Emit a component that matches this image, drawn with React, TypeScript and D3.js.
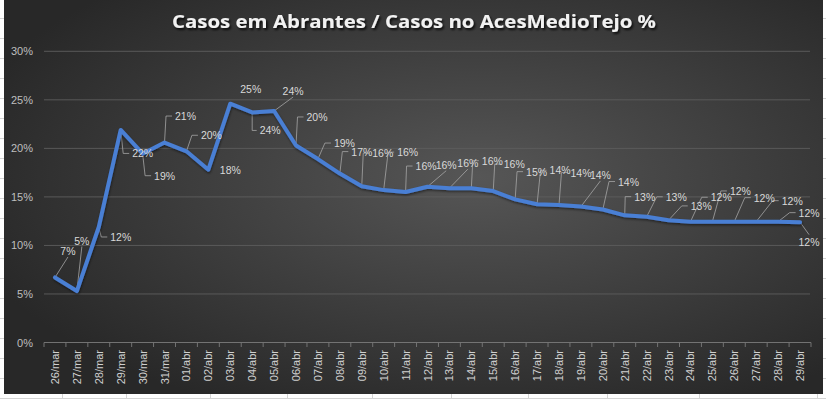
import React from "react";
import * as d3 from "d3";

const categories = [
  "26/mar", "27/mar", "28/mar", "29/mar", "30/mar", "31/mar",
  "01/abr", "02/abr", "03/abr", "04/abr", "05/abr", "06/abr", "07/abr", "08/abr", "09/abr",
  "10/abr", "11/abr", "12/abr", "13/abr", "14/abr", "15/abr", "16/abr", "17/abr", "18/abr",
  "19/abr", "20/abr", "21/abr", "22/abr", "23/abr", "24/abr", "25/abr", "26/abr", "27/abr",
  "28/abr", "29/abr",
];

const values = [
  6.7, 5.3, 11.9, 21.9, 19.45, 20.6,
  19.7, 17.8, 24.6, 23.7, 23.85, 20.3, 18.9, 17.4, 16.1,
  15.7, 15.5, 16.05, 15.9, 15.9, 15.6, 14.75, 14.24, 14.16,
  14.0, 13.7, 13.1, 12.95, 12.6, 12.45, 12.45, 12.45, 12.45,
  12.45, 12.4,
];

const yTicks = [0, 5, 10, 15, 20, 25, 30];
const title = "Casos em Abrantes / Casos no AcesMedioTejo %";

// label placement (offset of label centre from its point) and leader style
const labelDx = [13, 5, 22, 22, 22, 21, 25, 22, 20.5, 18, 19, 21, 26.5, 22, 21, 24, 20.5, 18.7, 18.4, 21, 21, 21.4, 23, 22, 19.5, 25.7, 20, 29.6, 32.7, 30.8, 28, 30, 36, 31, 9];
const labelDy = [-26.5, -50.5, 10, 23.5, 22, -26.5, -16, 0.5, -15, 18, -20, -28.5, -16, -22, -33, -38, -26, -22, -25, -27.5, -27, -27.7, -34, -32.5, -31.7, -28, -18.7, -20, -14.3, -24.4, -30.7, -24, -21, -9, 19.5];
const leaderType = ["b", "b", "e", "e", "e", "e", "e", "", "", "e", "b", "e", "e", "e", "e", "e", "e", "b", "b", "e", "e", "e", "e", "e", "b", "e", "e", "e", "e", "e", "e", "e", "e", "e", "t"];

const W = 826;
const H = 399;
const FONT = "'Liberation Sans', Arial, sans-serif";
const LABEL_SIZE = 10.5;

function textWidth(s: string) {
  let w = 0;
  for (const ch of s) w += (ch === "%" ? 0.89 : 0.556) * LABEL_SIZE;
  return w;
}

export default function App() {
  const x = d3.scaleBand<string>().domain(categories).range([44, 811]);
  const y = d3.scaleLinear().domain([0, 30]).range([342.5, 51.3]);
  const cx = (c: string) => (x(c) as number) + x.bandwidth() / 2;

  const line = d3
    .line<number>()
    .x((_, i) => cx(categories[i]))
    .y((d) => y(d));

  const boundaries = d3.range(categories.length + 1).map((i) => 44 + i * x.bandwidth());

  const colLines = [62, 126, 210, 287, 372, 451, 528, 607, 699, 817];
  const rowLines = d3.range(18, 399, 20);

  return (
    <svg
      width={W}
      height={H}
      style={{ position: "fixed", left: 0, top: 0, display: "block" }}
      xmlns="http://www.w3.org/2000/svg"
    >
      <defs>
        <radialGradient id="bg" cx="58%" cy="45%" r="65%">
          <stop offset="0" stopColor="#565656" />
          <stop offset="1" stopColor="#282828" />
        </radialGradient>
        <filter id="tshadow" x="-10%" y="-50%" width="120%" height="200%">
          <feDropShadow dx="1.5" dy="2" stdDeviation="1.2" floodColor="#000" floodOpacity="0.8" />
        </filter>
        <filter id="lshadow" x="-5%" y="-10%" width="110%" height="130%">
          <feDropShadow dx="0.5" dy="1.5" stdDeviation="1.2" floodColor="#000" floodOpacity="0.5" />
        </filter>
      </defs>

      {/* spreadsheet background */}
      <rect x={0} y={0} width={W} height={H} fill="#ffffff" />
      {rowLines.map((r) => (
        <line key={"r" + r} x1={0} x2={W} y1={r + 0.5} y2={r + 0.5} stroke="#d4d4d4" />
      ))}
      {colLines.map((c) => (
        <line key={"c" + c} x1={c + 0.5} x2={c + 0.5} y1={0} y2={H} stroke="#d4d4d4" />
      ))}

      {/* chart area */}
      <rect x={4} y={0} width={819} height={394} fill="url(#bg)" />

      <text
        x={414}
        y={28}
        textAnchor="middle"
        fontFamily="'Open Sans', 'Noto Sans', sans-serif"
        fontWeight="bold"
        fontSize={18}
        fill="#f2f2f2"
        textLength={484}
        lengthAdjust="spacingAndGlyphs"
        filter="url(#tshadow)"
      >
        {title}
      </text>

      {/* gridlines */}
      {yTicks.map((t) =>
        t === 0 ? null : (
          <line key={"g" + t} x1={44} x2={810} y1={y(t)} y2={y(t)} stroke="#5e5e5e" strokeWidth={0.9} />
        )
      )}
      {yTicks.map((t) => (
        <text
          key={"yl" + t}
          x={33}
          y={y(t)}
          textAnchor="end"
          dominantBaseline="central"
          fontFamily={FONT}
          fontSize={11}
          fill="#bfbfbf"
        >
          {t + "%"}
        </text>
      ))}

      {/* x axis */}
      <line x1={44} x2={811} y1={342.5} y2={342.5} stroke="#7a7a7a" strokeWidth={0.9} />
      {boundaries.map((b, i) => (
        <line key={"tk" + i} x1={b} x2={b} y1={342.5} y2={347} stroke="#7a7a7a" strokeWidth={0.9} />
      ))}
      {categories.map((c) => (
        <text
          key={"xl" + c}
          transform={`translate(${cx(c)},350) rotate(-90)`}
          textAnchor="end"
          dominantBaseline="central"
          fontFamily={FONT}
          fontSize={11}
          fill="#d0d0d0"
        >
          {c}
        </text>
      ))}

      {/* leader lines */}
      {values.map((v, i) => {
        const t = leaderType[i];
        if (!t) return null;
        const px = cx(categories[i]);
        const py = y(v);
        const lx = px + labelDx[i];
        const ly = py + labelDy[i];
        const label = Math.round(v) + "%";
        const left = lx - textWidth(label) / 2;
        let pts: [number, number][];
        if (t === "e") {
          const ex = Math.max(px, left - 9);
          pts = [[px, py], [ex, ly], [left - 3, ly]];
        } else if (t === "b") {
          pts = [[px, py], [lx, ly + 6]];
        } else {
          pts = [[px, py], [lx, ly - 7]];
        }
        return (
          <polyline
            key={"ld" + i}
            points={pts.map((p) => p.join(",")).join(" ")}
            fill="none"
            stroke="#a6a6a6"
            strokeWidth={0.8}
          />
        );
      })}

      {/* series line */}
      <path
        d={line(values) as string}
        fill="none"
        stroke="#4a7fd4"
        strokeWidth={4}
        strokeLinejoin="round"
        strokeLinecap="round"
        filter="url(#lshadow)"
      />

      {/* data labels */}
      {values.map((v, i) => (
        <text
          key={"dl" + i}
          x={cx(categories[i]) + labelDx[i]}
          y={y(v) + labelDy[i]}
          textAnchor="middle"
          dominantBaseline="central"
          fontFamily={FONT}
          fontSize={LABEL_SIZE}
          fill="#d9d9d9"
        >
          {Math.round(v) + "%"}
        </text>
      ))}
    </svg>
  );
}
